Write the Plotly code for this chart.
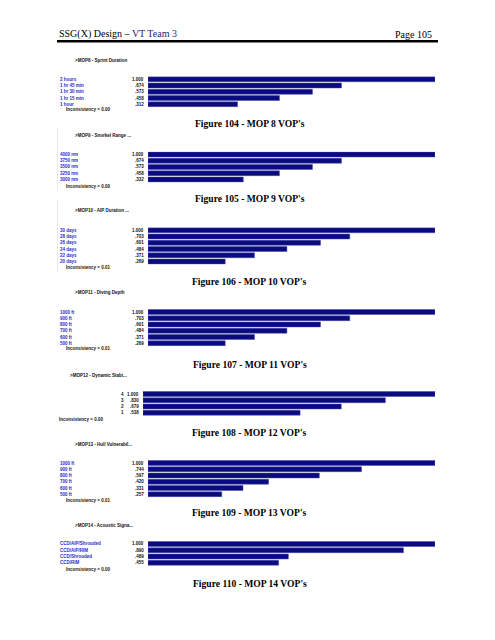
import plotly.graph_objects as go

# page has an 8px body margin around the figure
OFF = 8
W, H = 479, 624

# ---------------- data ----------------
mop8_labels = ["2 hours", "1 hr 45 min", "1 hr 30 min", "1 hr 15 min", "1 hour"]
mop8_values = [1.000, 0.674, 0.573, 0.458, 0.312]

mop9_labels = ["4000 nm", "3750 nm", "3500 nm", "3250 nm", "3000 nm"]
mop9_values = [1.000, 0.674, 0.573, 0.458, 0.332]

mop10_labels = ["30 days", "28 days", "26 days", "24 days", "22 days", "20 days"]
mop10_values = [1.000, 0.703, 0.601, 0.484, 0.371, 0.269]

mop11_labels = ["1000 ft", "900 ft", "800 ft", "700 ft", "600 ft", "500 ft"]
mop11_values = [1.000, 0.703, 0.601, 0.484, 0.371, 0.269]

mop12_labels = ["4", "3", "2", "1"]
mop12_values = [1.000, 0.830, 0.679, 0.538]

mop13_labels = ["1000 ft", "900 ft", "800 ft", "700 ft", "600 ft", "500 ft"]
mop13_values = [1.000, 0.744, 0.597, 0.420, 0.331, 0.257]

mop14_labels = ["CCD/AIP/Shrouded", "CCD/AIP/RIM", "CCD/Shrouded", "CCD/RIM"]
mop14_values = [1.000, 0.890, 0.489, 0.455]

titles = [">MOP8 - Sprint Duration", ">MOP9 - Snorkel Range ...", ">MOP10 - AIP Duration ...",
          ">MOP11 - Diving Depth", ">MOP12 - Dynamic Stabi...", ">MOP13 - Hull Vulnerabil...",
          ">MOP14 - Acoustic Signa..."]
inconsistency = ["0.00", "0.00", "0.01", "0.01", "0.00", "0.01", "0.00"]
captions = ["Figure 104 - MOP 8 VOP's", "Figure 105 - MOP 9 VOP's", "Figure 106 - MOP 10 VOP's",
            "Figure 107 - MOP 11 VOP's", "Figure 108 - MOP 12 VOP's", "Figure 109 - MOP 13 VOP's",
            "Figure 110 - MOP 14 VOP's"]

charts = [(mop8_labels, mop8_values), (mop9_labels, mop9_values), (mop10_labels, mop10_values),
          (mop11_labels, mop11_values), (mop12_labels, mop12_values), (mop13_labels, mop13_values),
          (mop14_labels, mop14_values)]

# ---------------- layout (page pixels) ----------------
# title_y, first_row_y, inconsistency_y, caption_y
pos = [(60, 79.3, 110, 123), (136, 154.5, 186, 198), (211, 230.3, 267.5, 281),
       (293, 312, 349, 364), (375, 394, 419, 432), (444, 463, 500, 512),
       (525, 544, 569.5, 583)]
PITCH = 6.25
BAR_END = 435

def px(x):
    return (x - OFF) / W

def py(y):
    return 1 - (y - OFF) / H

SMALL = dict(family="Liberation Sans, Arial, sans-serif", size=4.5, color="#111111")
LABEL = dict(family="Liberation Sans, Arial, sans-serif", size=4.5, color="#2a2acc")
SERIF = "Liberation Serif, Times New Roman, serif"

fig = go.Figure()
annotations = []
shapes = []

for i, ((labels, values), (ty, ry, iy, cy)) in enumerate(zip(charts, pos)):
    n = len(labels)
    idx = i + 1
    xa = "x" if idx == 1 else f"x{idx}"
    ya = "y" if idx == 1 else f"y{idx}"
    special = (i == 4)
    bar_start = 143 if special else 148
    top = ry - PITCH / 2
    bot = ry + (n - 1) * PITCH + PITCH / 2

    fig.add_trace(go.Bar(
        x=values, y=labels, orientation="h", xaxis=xa, yaxis=ya, width=0.78,
        marker=dict(color="#0b0b80", line=dict(color="#4646a8", width=0.5)),
        hoverinfo="x+y", showlegend=False))

    xkey = "xaxis" if idx == 1 else f"xaxis{idx}"
    ykey = "yaxis" if idx == 1 else f"yaxis{idx}"
    fig.update_layout(**{
        xkey: dict(domain=[px(bar_start), px(BAR_END)], range=[0, 1], visible=False,
                   anchor=ya, fixedrange=True),
        ykey: dict(domain=[py(bot), py(top)], type="category", categoryorder="array",
                   categoryarray=labels, range=[n - 0.5, -0.5], visible=False,
                   anchor=xa, fixedrange=True),
    })

    for j, (lab, v) in enumerate(zip(labels, values)):
        vtxt = "1.000" if v >= 1 else ("%.3f" % v)[1:]
        if special:
            annotations.append(dict(x=px(126), y=j, xref="paper", yref=ya, text=f"<b>{lab}</b>",
                                    showarrow=False, xanchor="right", yanchor="middle", font=SMALL))
            annotations.append(dict(x=px(140.5), y=j, xref="paper", yref=ya, text=f"<b>{vtxt}</b>",
                                    showarrow=False, xanchor="right", yanchor="middle", font=SMALL))
        else:
            annotations.append(dict(x=px(58), y=j, xref="paper", yref=ya, text=f"<b>{lab}</b>",
                                    showarrow=False, xanchor="left", yanchor="middle", font=LABEL))
            annotations.append(dict(x=px(145.5), y=j, xref="paper", yref=ya, text=f"<b>{vtxt}</b>",
                                    showarrow=False, xanchor="right", yanchor="middle", font=SMALL))

    # chart title
    annotations.append(dict(x=px(68 if special else 72.5), y=py(ty), xref="paper", yref="paper",
                            text=f"<b>{titles[i]}</b>", showarrow=False, xanchor="left",
                            yanchor="middle", font=SMALL))
    # inconsistency
    annotations.append(dict(x=px(57 if special else 64), y=py(iy), xref="paper", yref="paper",
                            text=f"<b>Inconsistency = {inconsistency[i]}</b>", showarrow=False,
                            xanchor="left", yanchor="middle", font=SMALL))
    # caption
    annotations.append(dict(x=px(250), y=py(cy), xref="paper", yref="paper",
                            text=f"<b>{captions[i]}</b>", showarrow=False, xanchor="center",
                            yanchor="middle", font=dict(family=SERIF, size=9.6, color="#000000")))

# faint screenshot edges
for (y0, y1) in [(128, 190), (200, 272)]:
    shapes.append(dict(type="line", xref="paper", yref="paper", x0=px(57.5), x1=px(57.5),
                       y0=py(y0), y1=py(y1), line=dict(color="#dcdcdc", width=0.6)))

# header
annotations.append(dict(x=px(57), y=py(34.5), xref="paper", yref="paper",
                        text="SSG(X) Design – <span style='color:#1c1c78'>VT Team 3</span>",
                        showarrow=False, xanchor="left", yanchor="middle",
                        font=dict(family=SERIF, size=10, color="#000000")))
annotations.append(dict(x=px(433.5), y=py(34.5), xref="paper", yref="paper", text="Page 105",
                        showarrow=False, xanchor="right", yanchor="middle",
                        font=dict(family=SERIF, size=10, color="#000000")))
shapes.append(dict(type="line", xref="paper", yref="paper", x0=px(57), x1=px(438),
                   y0=py(41.3), y1=py(41.3), line=dict(color="#000000", width=2.6)))

fig.update_layout(width=W, height=H, margin=dict(l=0, r=0, t=0, b=0),
                  paper_bgcolor="white", plot_bgcolor="white", bargap=0.2,
                  annotations=annotations, shapes=shapes, showlegend=False)

fig.write_html("out.html", config={"displayModeBar": False})
